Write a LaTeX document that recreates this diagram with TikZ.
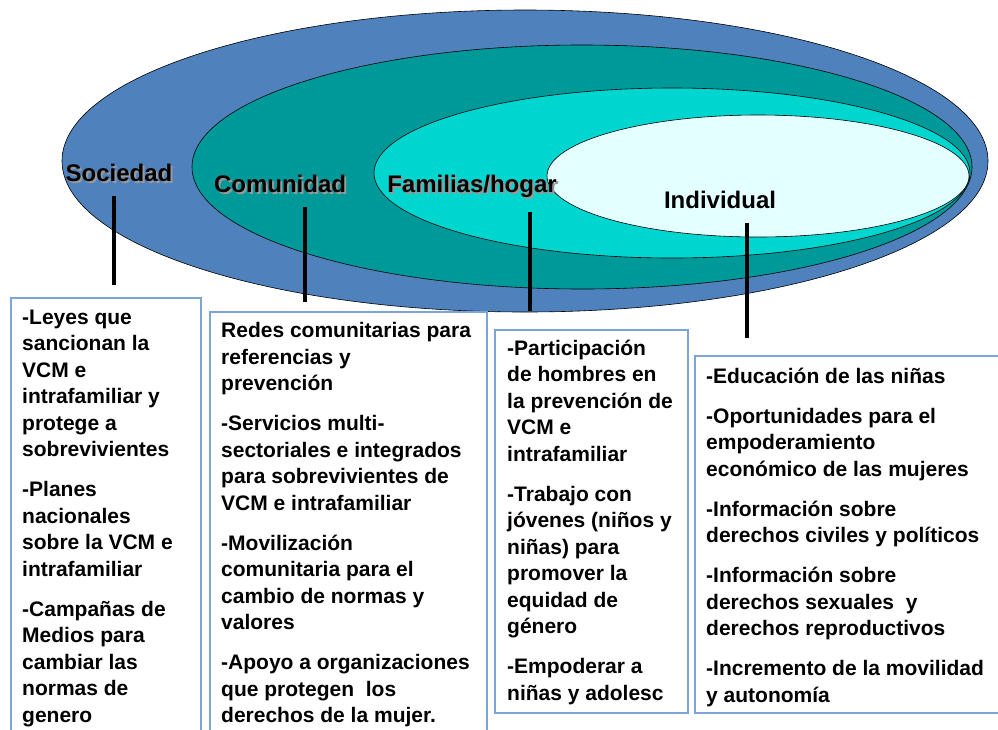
\documentclass[tikz,border=0pt]{standalone}
\usepackage{fontspec}
\setmainfont{Liberation Sans}
\definecolor{sociedad}{RGB}{79,129,189}
\definecolor{comunidad}{RGB}{0,153,153}
\definecolor{familia}{RGB}{0,214,208}
\definecolor{individuo}{RGB}{228,255,255}
\definecolor{marco}{RGB}{126,163,214}

\begin{document}
\begin{tikzpicture}[x=1pt, y=-1pt,
    capa/.style={draw=black, line width=0.6pt},
    etiqueta/.style={font=\fontsize{24}{28}\selectfont\bfseries, inner sep=0pt, anchor=base},
    sombra/.style={etiqueta, text=black!40},
    tallo/.style={line width=3.5pt, shorten <=15pt},
    caja/.style={draw=marco, line width=1.2pt},
    lista/.style={font=\fontsize{21}{26.5}\selectfont\bfseries, align=left, anchor=north west, inner sep=0pt}]
    \useasboundingbox (0,0) rectangle (998,729);
    \clip (0,0) rectangle (998,729);
    % nested levels
    \filldraw[capa, fill=sociedad] (525,161) ellipse [x radius=463, y radius=151];
    \filldraw[capa, fill=comunidad] (582,167) ellipse [x radius=390, y radius=122];
    \filldraw[capa, fill=familia] (672,173) ellipse [x radius=298, y radius=85];
    \filldraw[capa, fill=individuo] (758,176) ellipse [x radius=211, y radius=61];
    % level names
    \node[sombra] at (121,183) {Sociedad};
    \node[etiqueta] (soc) at (119,181) {Sociedad};
    \node[sombra] at (282,194) {Comunidad};
    \node[etiqueta] (com) at (280,192) {Comunidad};
    \node[sombra] at (474,194) {Familias/hogar};
    \node[etiqueta] (fam) at (472,192) {Familias/hogar};
    \node[etiqueta] (ind) at (720,208) {Individual};
    % stems
    \coordinate (socEnd) at (114,285);
    \coordinate (comEnd) at (305,302);
    \coordinate (famEnd) at (530,311);
    \coordinate (indEnd) at (747,338);
    \draw[tallo] (soc.south -| socEnd) -- (socEnd);
    \draw[tallo] (com.south -| comEnd) -- (comEnd);
    \draw[tallo] (fam.south -| famEnd) -- (famEnd);
    \draw[tallo] (ind.south -| indEnd) -- (indEnd);
    % boxes
    \draw[caja] (11,298) rectangle (201,740);
    \draw[caja] (210,312) rectangle (487,740);
    \draw[caja] (495,330) rectangle (688,713);
    \draw[caja] (695,356) rectangle (1010,713);
    \node[lista] (txtSoc) at (22,309.5) {-Leyes que\\sancionan la\\VCM e\\intrafamiliar y\\protege a\\sobrevivientes\\[13.5pt]
        -Planes\\nacionales\\sobre la VCM e\\intrafamiliar\\[13.5pt]
        -Campañas de\\Medios para\\cambiar las\\normas de\\genero};
    \node[lista] (txtCom) at (221,322.5) {Redes comunitarias para\\referencias y\\prevención\\[13.5pt]
        -Servicios multi-\\sectoriales e integrados\\para sobrevivientes de\\VCM e intrafamiliar\\[13.5pt]
        -Movilización\\comunitaria para el\\cambio de normas y\\valores\\[13.5pt]
        -Apoyo a organizaciones\\que protegen~ los\\derechos de la mujer.};
    \node[lista] (txtFam) at (507,339.5) {-Participación\\de hombres en\\la prevención de\\VCM e\\intrafamiliar\\[13.5pt]
        -Trabajo con\\jóvenes (niños y\\niñas) para\\promover la\\equidad de\\género\\[13.5pt]
        -Empoderar a\\niñas y adolesc};
    \node[lista] (txtInd) at (706,367.5) {-Educación de las niñas\\[13.5pt]
        -Oportunidades para el\\empoderamiento\\económico de las mujeres\\[13.5pt]
        -Información sobre\\derechos civiles y políticos\\[13.5pt]
        -Información sobre\\derechos sexuales~ y\\derechos reproductivos\\[13.5pt]
        -Incremento de la movilidad\\y autonomía};
\end{tikzpicture}
\end{document}
